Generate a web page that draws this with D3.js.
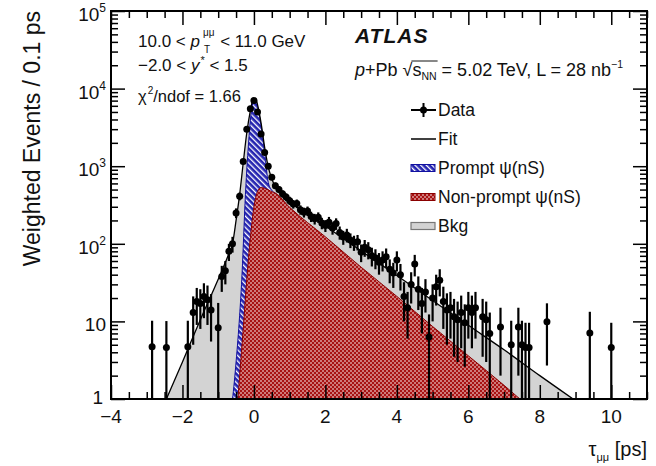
<!DOCTYPE html>
<html><head><meta charset="utf-8">
<script src="https://cdn.jsdelivr.net/npm/d3@7"></script>
<style>
body{margin:0;background:#fff}
svg{display:block}
text{font-family:"Liberation Sans",Arial,Helvetica,sans-serif;white-space:pre}
</style>
</head><body>
<svg id="c" width="656" height="466"></svg>
<script>
// ---------------- data ----------------
const xTickValues = [-4, -2, 0, 2, 4, 6, 8, 10];
const xTickLabels = ["\u22124", "\u22122", "0", "2", "4", "6", "8", "10"];
const yTickValues = [1, 10, 100, 1000, 10000, 100000];
const yTickBase = ["1", "10", "10", "10", "10", "10"];
const yTickExp = ["", "", "2", "3", "4", "5"];

const dataTau = [-2.85,-2.45,-1.85,-1.7,-1.6,-1.5,-1.4,-1.3,-1.2,-1.0,-0.9,-0.8,-0.7,-0.6,-0.5,-0.4,-0.3,-0.2,-0.1,0.0,
  0.1,0.2,0.3,0.4,0.5,0.6,0.7,0.8,0.9,1.0,1.1,1.2,1.3,1.4,1.5,1.6,1.7,1.8,1.9,2.0,
  2.1,2.2,2.3,2.4,2.5,2.6,2.7,2.8,2.9,3.0,3.1,3.2,3.3,3.4,3.5,3.6,3.7,3.8,3.9,4.0,
  4.1,4.2,4.3,4.4,4.5,4.6,4.7,4.8,4.9,5.0,5.1,5.2,5.3,5.4,5.5,5.6,5.7,5.8,5.9,6.0,
  6.1,6.2,6.4,6.5,6.6,6.9,7.2,7.4,7.5,7.6,7.7,8.2,9.4,10.0];
const dataValue = [4.7,4.6,4.7,13,18,17,21,19,14,8.3,38,45,80,100,250,410,1150,3000,5500,7000,
  5000,2600,1500,1000,720,560,500,440,400,360,325,330,275,255,265,225,210,220,185,172,
  190,160,182,140,122,130,112,104,106,78,90,84,70,66,58,62,68,47,42,62,
  40,21,15,30,55,26,17,24,6.3,20,28,34,18,14,15,11.5,10.5,13,9.6,15,
  13,15,11.5,10.5,7,8.5,5,8.5,5,4.6,4.6,9.9,7.1,4.6];
const dataError = [5.5,5.5,5.5,8,9,9,10,10,8.5,9,14,15,20,23,36,47,78,126,170,192,
  160,117,89,73,62,54,51,48,46,44,41,42,38,37,37,34,33,34,31,30,
  32,29,31,27,25,26,24,23,24,20,22,21,19,19,18,18,19,16,15,18,
  15,11,9,13,17,12,10,11,6,10,12,13,10,9,9,8,7.5,8.5,7,9,
  8.5,9,8,7.5,6,6.5,5.2,6.5,5.2,5,5,7.2,6.2,5];

// fit: total curve (top of grey)
const fitTau   = [-2.6,-2.45,-2.0,-1.5,-1.0,-0.7,-0.6,-0.5,-0.4,-0.3,-0.2,-0.1,-0.05,0.0,0.05,0.1,0.2,0.3,0.4,0.5,0.6,0.8,1.0,2.0,3.0,4.0,5.0,6.0,7.0,8.0,9.0,9.5];
const fitTotal = [0.7,1,3,10.5,35,75,100,200,430,1100,2700,5200,6700,7500,7400,6200,3600,1750,980,690,540,430,355,170,81,39,18.6,8.9,4.3,2.0,0.95,0.65];
// prompt + non-prompt (top of blue)
const promptTau = [-0.65,-0.6,-0.5,-0.4,-0.34,-0.3,-0.25,-0.2,-0.15,-0.1,-0.05,0.0,0.05,0.1,0.2,0.3,0.4,0.5,0.6];
const promptTop = [0.7,1,3,12,35,90,330,900,2000,3900,5900,7100,7100,5900,3300,1500,620,490,450];
// non-prompt (top of red)
const nonPromptTau = [-0.5,-0.45,-0.4,-0.3,-0.2,-0.1,0.0,0.1,0.2,0.3,0.5,0.6,1.0,2.0,3.0,4.0,5.0,6.0,7.0,7.5,8.0];
const nonPromptTop = [0.6,1,2,8,35,120,300,470,530,520,470,450,295,123,50,21,8.6,3.6,1.5,0.95,0.6];

const legendLabels = ["Data", "Fit", "Prompt \u03C8(nS)", "Non-prompt \u03C8(nS)", "Bkg"];

// ---------------- drawing ----------------
const svg = d3.select("#c");
const M = {l: 111, r: 647, t: 11, b: 399};
const x = d3.scaleLinear().domain([-4, 11]).range([M.l, M.r]);
const y = d3.scaleLog().domain([1, 1e5]).range([M.b, M.t]);

const defs = svg.append("defs");
defs.append("clipPath").attr("id", "clip").append("rect")
  .attr("x", M.l).attr("y", M.t).attr("width", M.r - M.l).attr("height", M.b - M.t);

const pb = defs.append("pattern").attr("id", "blueHatch").attr("patternUnits", "userSpaceOnUse")
  .attr("width", 4).attr("height", 4).attr("patternTransform", "rotate(-45)");
pb.append("rect").attr("width", 4).attr("height", 4).attr("fill", "#2424b0");
pb.append("rect").attr("x", 0).attr("y", 0).attr("width", 1.3).attr("height", 4).attr("fill", "#ffffff");

const pr = defs.append("pattern").attr("id", "redDots").attr("patternUnits", "userSpaceOnUse")
  .attr("width", 4).attr("height", 4);
pr.append("rect").attr("width", 4).attr("height", 4).attr("fill", "#a81212");
pr.append("circle").attr("cx", 1).attr("cy", 1).attr("r", 0.8).attr("fill", "#ffffff");
pr.append("circle").attr("cx", 3).attr("cy", 3).attr("r", 0.8).attr("fill", "#ffffff");

const plot = svg.append("g").attr("clip-path", "url(#clip)");

const area = d3.area().x(d => x(d[0])).y0(M.b + 20).y1(d => y(d[1])).curve(d3.curveMonotoneX);
const line = d3.line().x(d => x(d[0])).y(d => y(d[1])).curve(d3.curveMonotoneX);

const totalPts = fitTau.map((t, i) => [t, fitTotal[i]]);
const promptPts = promptTau.map((t, i) => [t, promptTop[i]]);
const npPts = nonPromptTau.map((t, i) => [t, nonPromptTop[i]]);

plot.append("path").attr("d", area(totalPts)).attr("fill", "#d3d3d3").attr("stroke", "none");
plot.append("path").attr("d", area(promptPts)).attr("fill", "url(#blueHatch)").attr("stroke", "#1010a0").attr("stroke-width", 1);
plot.append("path").attr("d", area(npPts)).attr("fill", "url(#redDots)").attr("stroke", "#8a0000").attr("stroke-width", 1);
plot.append("path").attr("d", line(totalPts)).attr("fill", "none").attr("stroke", "#000").attr("stroke-width", 1.3);

// data points
const pts = plot.append("g");
dataTau.forEach((t, i) => {
  const v = dataValue[i], e = dataError[i];
  const lo = v - e > 0 ? y(v - e) : M.b + 10;
  const hi = y(v + e);
  pts.append("line").attr("x1", x(t)).attr("x2", x(t)).attr("y1", lo).attr("y2", hi)
    .attr("stroke", "#000").attr("stroke-width", 2.2);
  pts.append("line").attr("x1", x(t - 0.05)).attr("x2", x(t + 0.05)).attr("y1", y(v)).attr("y2", y(v))
    .attr("stroke", "#000").attr("stroke-width", 2);
  pts.append("circle").attr("cx", x(t)).attr("cy", y(v)).attr("r", 3.5).attr("fill", "#000");
});

// axes (ticks inside frame)
const xMinor = d3.range(-4, 11.001, 0.5).filter(v => Math.abs(v / 2 - Math.round(v / 2)) > 1e-6);
const yMinor = [];
for (let d = 0; d < 5; d++) for (let k = 2; k <= 9; k++) yMinor.push(k * Math.pow(10, d));

function axisG(gen, tx, ty) {
  const g = svg.append("g").attr("transform", `translate(${tx},${ty})`).call(gen);
  g.select(".domain").remove();
  g.selectAll(".tick line").attr("stroke", "#000").attr("stroke-width", 1.5);
  return g;
}
axisG(d3.axisTop(x).tickValues(xTickValues).tickSize(14).tickFormat(""), 0, M.b);
axisG(d3.axisTop(x).tickValues(xMinor).tickSize(7).tickFormat(""), 0, M.b);
axisG(d3.axisBottom(x).tickValues(xTickValues).tickSize(14).tickFormat(""), 0, M.t);
axisG(d3.axisBottom(x).tickValues(xMinor).tickSize(7).tickFormat(""), 0, M.t);
axisG(d3.axisRight(y).tickValues(yTickValues).tickSize(14).tickFormat(""), M.l, 0);
axisG(d3.axisRight(y).tickValues(yMinor).tickSize(7).tickFormat(""), M.l, 0);
axisG(d3.axisLeft(y).tickValues(yTickValues).tickSize(14).tickFormat(""), M.r, 0);
axisG(d3.axisLeft(y).tickValues(yMinor).tickSize(7).tickFormat(""), M.r, 0);

svg.append("rect").attr("x", M.l).attr("y", M.t).attr("width", M.r - M.l).attr("height", M.b - M.t)
  .attr("fill", "none").attr("stroke", "#000").attr("stroke-width", 2);

// tick labels
const labCol = "#111";
xTickValues.forEach((v, i) => {
  svg.append("text").attr("x", x(v)).attr("y", 423).attr("text-anchor", "middle")
    .attr("font-size", 19).attr("fill", labCol).text(xTickLabels[i]);
});
yTickValues.forEach((v, i) => {
  const t = svg.append("text").attr("y", i === 0 ? y(v) + 5 : y(v) + 10).attr("font-size", 19).attr("fill", labCol);
  t.append("tspan").text(yTickBase[i]);
  if (yTickExp[i]) t.append("tspan").attr("font-size", 12).attr("dy", -9).text(yTickExp[i]);
  const w = t.node().getComputedTextLength();
  t.attr("x", (i === 0 ? 103 : 106) - w);
});

// rich text helper
function rich(g, x0, y0, parts) {
  let cx = x0;
  parts.forEach(p => {
    const t = g.append("text").attr("x", cx + (p.dx || 0)).attr("y", y0 + (p.dy || 0))
      .attr("font-size", p.size).attr("fill", "#111")
      .attr("font-style", p.italic ? "italic" : null)
      .attr("font-weight", p.bold ? "bold" : null).text(p.t);
    const w = t.node().getComputedTextLength();
    p.w = w;
    if (!p.noAdv) cx += w + (p.dx || 0);
  });
  return cx;
}

const ann = svg.append("g");
// line 1: 10.0 < p_T^{μμ} < 11.0 GeV
{
  let cx = rich(ann, 138, 47, [{t: "10.0 < ", size: 17}, {t: "p", size: 17, italic: true}]);
  const a = rich(ann, cx + 3, 47, [{t: "\u03BC\u03BC", size: 10, dy: -11}]);
  const b = rich(ann, cx + 4, 47, [{t: "T", size: 10, dy: 6}]);
  rich(ann, Math.max(a, b) + 1, 47, [{t: " < 11.0 GeV", size: 17}]);
}
// line 2
{
  let cx = rich(ann, 138, 71, [{t: "\u22122.0 < ", size: 17}, {t: "y", size: 17, italic: true}]);
  cx = rich(ann, cx + 1, 71, [{t: "*", size: 11, dy: -7}]);
  rich(ann, cx, 71, [{t: " < 1.5", size: 17}]);
}
// line 3
{
  let cx = rich(ann, 138, 102, [{t: "\u03C7", size: 16.5}]);
  cx = rich(ann, cx + 1, 102, [{t: "2", size: 10, dy: -8}]);
  rich(ann, cx, 102, [{t: "/ndof = 1.66", size: 16.5}]);
}
// ATLAS
ann.append("text").attr("x", 355).attr("y", 43).attr("font-size", 21).attr("font-weight", "bold")
  .attr("font-style", "italic").attr("fill", "#111").attr("letter-spacing", 1).text("ATLAS");
// p+Pb line
{
  let cx = rich(ann, 355, 76, [{t: "p", size: 18, italic: true}, {t: "+Pb ", size: 18}, {t: "\u221A", size: 18}]);
  const sx = cx;
  cx = rich(ann, cx, 76, [{t: "s", size: 18}]);
  cx = rich(ann, cx, 76, [{t: "NN", size: 10.5, dy: 4}]);
  ann.append("line").attr("x1", sx - 1).attr("x2", cx + 1).attr("y1", 61).attr("y2", 61)
    .attr("stroke", "#111").attr("stroke-width", 1);
  cx = rich(ann, cx, 76, [{t: " = 5.02 TeV, L = 28 nb", size: 18}]);
  rich(ann, cx, 76, [{t: "\u22121", size: 10.5, dy: -8}]);
}

// legend
const legY = [110, 139, 168, 197, 226];
const lg = svg.append("g");
lg.append("line").attr("x1", 411).attr("x2", 436).attr("y1", legY[0]).attr("y2", legY[0]).attr("stroke", "#000").attr("stroke-width", 2);
lg.append("line").attr("x1", 423.5).attr("x2", 423.5).attr("y1", legY[0] - 7).attr("y2", legY[0] + 7).attr("stroke", "#000").attr("stroke-width", 2);
lg.append("circle").attr("cx", 423.5).attr("cy", legY[0]).attr("r", 3.5).attr("fill", "#000");
lg.append("line").attr("x1", 411).attr("x2", 436).attr("y1", legY[1]).attr("y2", legY[1]).attr("stroke", "#000").attr("stroke-width", 1.5);
lg.append("rect").attr("x", 411).attr("y", legY[2] - 3.5).attr("width", 24).attr("height", 7)
  .attr("fill", "url(#blueHatch)").attr("stroke", "#1010a0").attr("stroke-width", 1);
lg.append("rect").attr("x", 411).attr("y", legY[3] - 3.5).attr("width", 24).attr("height", 7)
  .attr("fill", "url(#redDots)").attr("stroke", "#8a0000").attr("stroke-width", 1);
lg.append("rect").attr("x", 411).attr("y", legY[4] - 3.5).attr("width", 24).attr("height", 7)
  .attr("fill", "#d3d3d3").attr("stroke", "#777").attr("stroke-width", 1.2);
legendLabels.forEach((s, i) => {
  lg.append("text").attr("x", 438).attr("y", legY[i] + 6).attr("font-size", 17.5).attr("fill", "#111").text(s);
});

// axis titles
svg.append("text").attr("transform", "translate(40,11) rotate(-90)").attr("text-anchor", "end")
  .attr("font-size", 23).attr("fill", "#111").text("Weighted Events / 0.1 ps");
{
  const g = svg.append("g");
  let cx = rich(g, 0, 456, [{t: "\u03C4", size: 20}]);
  cx = rich(g, cx, 456, [{t: "\u03BC\u03BC", size: 11, dy: 5}]);
  cx = rich(g, cx, 456, [{t: " [ps]", size: 20}]);
  g.attr("transform", `translate(${647 - cx},0)`);
}
</script>
</body></html>
